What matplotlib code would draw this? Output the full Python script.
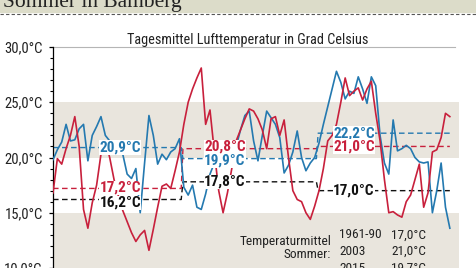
import matplotlib
matplotlib.use('Agg')
import matplotlib.pyplot as plt
from matplotlib import font_manager as fm
from matplotlib.ticker import MultipleLocator, FuncFormatter
from matplotlib.patches import Rectangle
from matplotlib.lines import Line2D

# Tagesmittel Juni-August (92 Tage)
days = list(range(92))
month_len = [30, 31, 31]

temp_blue = [19.8, 20.7, 21.4, 23.0, 21.5, 21.6, 22.6, 23.0, 19.7, 22.0,
             22.8, 23.7, 22.0, 21.5, 21.2, 21.0, 20.3, 18.5, 18.1, 19.0,
             15.0, 19.5, 23.8, 22.0, 19.4, 20.3, 19.8, 20.5, 20.8, 21.7,
             17.3, 16.6, 17.5, 15.5, 15.3, 16.7, 18.5, 19.5, 19.8, 20.2,
             19.8, 20.5, 21.0, 22.5, 23.8, 24.2, 21.5, 19.7, 22.0, 24.2,
             23.6, 23.0, 21.8, 18.6, 19.3, 20.5, 22.4, 20.0, 18.8, 19.5,
             20.0,
             21.3, 23.0, 24.6, 26.2, 27.8, 26.8, 25.3, 26.0, 25.8, 27.3,
             26.2, 24.9, 27.3, 26.5, 22.0, 19.5, 18.5, 23.4, 20.6, 20.8,
             21.1, 20.8, 20.0, 19.6, 19.5, 19.6, 15.0, 17.0, 19.5, 15.5,
             13.6]

temp_red = [16.8, 19.9, 19.4, 20.8, 22.0, 23.7, 21.0, 15.3, 13.6, 15.9,
            17.5, 20.3, 21.5, 20.0, 18.0, 16.5, 15.2, 14.2, 13.2, 12.4,
            13.0, 13.4, 11.6, 13.5, 15.5, 17.4, 17.6, 17.2, 18.8, 20.5,
            23.0, 25.0, 26.2, 27.2, 28.1, 23.0, 24.3, 20.5, 17.0, 15.0,
            16.8, 19.0, 21.5, 22.5, 23.5, 24.4, 24.2, 23.5, 22.5, 20.8,
            23.5, 23.7, 22.0, 23.4, 20.0, 17.0, 16.2, 16.0, 15.0, 14.4,
            15.6,
            17.0, 19.0, 21.5, 22.0, 23.0, 25.0, 27.2, 25.6, 26.0, 26.3,
            25.2, 26.2, 26.9, 24.0, 21.5, 18.0, 15.0, 15.1, 14.8, 14.6,
            16.0, 16.6, 18.0, 19.4, 15.5, 16.8, 20.5, 20.7, 21.8, 24.0,
            23.7]

# Monatsmittel (Juni, Juli, August)
mean_blue = [20.9, 19.9, 22.2]
mean_red = [17.2, 20.8, 21.0]
mean_black = [16.2, 17.8, 17.0]

legend_rows = [("1961-90", "17,0°C"), ("2003", "21,0°C"), ("2015", "19,7°C")]
yticks = [10, 15, 20, 25, 30]

BLUE = '#2479b0'
RED = '#c8203c'
BEIGE = '#e9e5dd'
INK = '#222222'


# schmale Schrift suchen (falls vorhanden)
def find_condensed(bold):
    prefs = ['Liberation Sans Narrow', 'Roboto Condensed', 'DejaVu Sans',
             'Open Sans Condensed', 'Noto Sans']
    found = {}
    for f in fm.fontManager.ttflist:
        if f.style != 'normal' or 'condensed' not in str(f.stretch):
            continue
        w = f.weight if isinstance(f.weight, int) else fm.weight_dict.get(f.weight, 400)
        if (w >= 600) != bold:
            continue
        found.setdefault(f.name, f.fname)
    for p in prefs:
        if p in found:
            return fm.FontProperties(fname=found[p]), True
    for n in found:
        if 'Mono' not in n and 'Serif' not in n:
            return fm.FontProperties(fname=found[n]), True
    return fm.FontProperties(family='Liberation Sans',
                             weight='bold' if bold else 'normal'), False


fp_reg, cond = find_condensed(False)
fp_bold, cond_b = find_condensed(True)
s_reg = 10.5 if cond else 8.6
s_bold = 11 if cond_b else 9.2


def de(v):
    return f"{v:.1f}".replace('.', ',') + "°C"


def fp(base, size):
    p = base.copy()
    p.set_size(size)
    return p


W, H = 476, 268
fig = plt.figure(figsize=(W / 100, H / 100), dpi=100)

# Kopfzeile
fig.patches.append(Rectangle((0, 1 - 12 / H), 1, 12 / H, transform=fig.transFigure,
                             color='#dcdcc9', zorder=0))
fig.text(3 / W, 1 - 7 / H, "Sommer in Bamberg", family='Liberation Serif',
         fontsize=15.5, va='baseline', ha='left', color=INK)
fig.lines.append(Line2D([0, 1], [1 - 14 / H, 1 - 14 / H], transform=fig.transFigure,
                        color='#555555', lw=0.8, ls=(0, (3, 2))))

ax = fig.add_axes([53 / W, 0, 406 / W, (H - 47) / H])
ax.set_xlim(0, 93.1)
ax.set_ylim(10.6, 30)

ax.axhspan(20, 25, color=BEIGE, lw=0, zorder=0)
ax.axhspan(10, 15, color=BEIGE, lw=0, zorder=0)
ax.axhline(30, xmax=0.99, color='#b5b5b5', lw=0.8, clip_on=False)

# Monatsmittel als gestrichelte Stufen
bounds = [0]
for m in month_len:
    bounds.append(bounds[-1] + m)
seg_x = []
for i in range(3):
    seg_x += [bounds[i] + (0 if i == 0 else -0.2), bounds[i + 1] - 0.6 if i < 2 else bounds[i + 1] - 1]
for means, col in [(mean_black, '#111111'), (mean_red, RED), (mean_blue, BLUE)]:
    seg_y = []
    for v in means:
        seg_y += [v, v]
    ax.plot(seg_x, seg_y, color=col, lw=1.0, ls=(0, (4, 2.5)), zorder=2)

ax.plot(days, temp_blue, color=BLUE, lw=1.2, zorder=3)
ax.plot(days, temp_red, color=RED, lw=1.2, zorder=4)

# Beschriftung der Monatsmittel (kleine vertikale Verschiebung in Punkten)
label_x = [15.4, 39.4, 69]
shift = {('b', 1): -1.5, ('r', 1): 1.2, ('r', 0): 0.5, ('k', 0): -2.5}
for key, means, col in [('b', mean_blue, BLUE), ('r', mean_red, RED), ('k', mean_black, '#111111')]:
    for i, (x, v) in enumerate(zip(label_x, means)):
        ax.annotate(de(v), (x, v), xytext=(0, shift.get((key, i), 0)),
                    textcoords='offset points', color=col,
                    fontproperties=fp(fp_bold, s_bold), ha='center', va='center', zorder=6,
                    bbox=dict(facecolor='white', edgecolor='none', pad=0.1))

ax.set_title("Tagesmittel Lufttemperatur in Grad Celsius", fontproperties=fp(fp_reg, s_reg * 0.98),
             pad=2, x=0.48, color=INK)

for s in ['top', 'right', 'bottom']:
    ax.spines[s].set_visible(False)
ax.spines['left'].set_linewidth(0.9)
ax.set_xticks([])
ax.set_yticks(yticks)
ax.yaxis.set_minor_locator(MultipleLocator(1))
ax.yaxis.set_major_formatter(FuncFormatter(lambda v, p: de(v)))
ax.tick_params(axis='y', which='major', length=3, width=0.9, pad=4.5, labelcolor=INK)
ax.tick_params(axis='y', which='minor', length=2, width=0.8)
for lab in ax.get_yticklabels():
    lab.set_fontproperties(fp(fp_reg, s_reg))

# Legende unten rechts
s_leg = s_reg * 0.92
fig.text(331 / W, 1 - 241 / H, "Temperaturmittel", ha='right', va='center',
         fontproperties=fp(fp_reg, s_leg), color=INK)
fig.text(331 / W, 1 - 254 / H, "Sommer:", ha='right', va='center',
         fontproperties=fp(fp_reg, s_leg), color=INK)
for i, (yr, val) in enumerate(legend_rows):
    yy = 1 - (235 + 16.5 * i) / H
    fig.text(339 / W, yy, yr, ha='left', va='center', fontproperties=fp(fp_reg, s_leg), color=INK)
    fig.text(391 / W, yy, val, ha='left', va='center', fontproperties=fp(fp_reg, s_leg), color=INK)

fig.savefig('out.png', dpi=100)
